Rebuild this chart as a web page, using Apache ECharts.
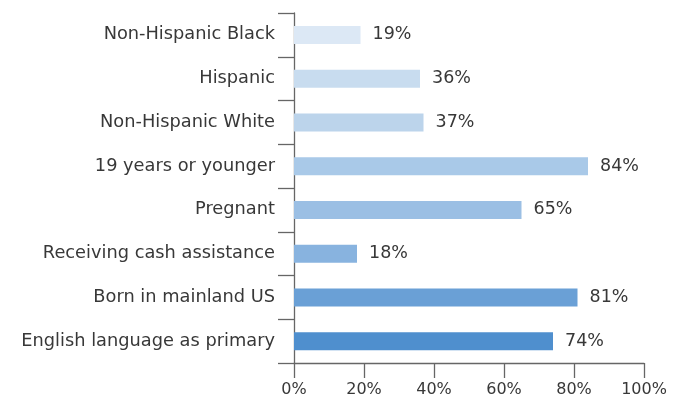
<!DOCTYPE html>
<html><head><meta charset="utf-8">
<script src="https://cdn.jsdelivr.net/npm/echarts@6/dist/echarts.min.js"></script>
<style>html,body{margin:0;padding:0;background:#fff}#c{width:686px;height:405px}</style>
</head><body><div id="c"></div>
<script>
const categories = ["Non-Hispanic Black","Hispanic","Non-Hispanic White","19 years or younger","Pregnant","Receiving cash assistance","Born in mainland US","English language as primary"];
const values = [19,36,37,84,65,18,81,74];
const barColors = ["#dce8f5","#c8dcef","#bcd4eb","#a9c9e8","#9bbfe4","#88b3df","#6aa0d6","#4f8fce"];
const xTicks = [0,20,40,60,80,100];

const chart = echarts.init(document.getElementById('c'));
const font = "'DejaVu Sans', sans-serif";
chart.setOption({
  animation:false,
  grid:{left:294,right:42,top:13,bottom:42,containLabel:false},
  xAxis:{type:'value',min:xTicks[0],max:xTicks[xTicks.length-1],interval:20,
    axisLine:{show:true,lineStyle:{color:'#666',width:1.3}},
    axisTick:{show:true,length:15,lineStyle:{color:'#666',width:1.3}},
    splitLine:{show:false},
    axisLabel:{formatter:'{value}%',color:'#383838',fontSize:16,fontFamily:font,margin:19}},
  yAxis:{type:'category',data:categories,inverse:true,
    axisLine:{show:true,lineStyle:{color:'#666',width:1.3}},
    axisTick:{show:true,length:16,lineStyle:{color:'#666',width:1.3}},
    axisLabel:{color:'#383838',fontSize:17.8,fontFamily:font,margin:19}},
  series:[{type:'bar',data:values.map((v,i)=>({value:v,itemStyle:{color:barColors[i]}})),
    barWidth:18,
    label:{show:true,position:'right',distance:12,formatter:'{c}%',color:'#383838',fontSize:17.5,fontFamily:font}}]
});
</script></body></html>
